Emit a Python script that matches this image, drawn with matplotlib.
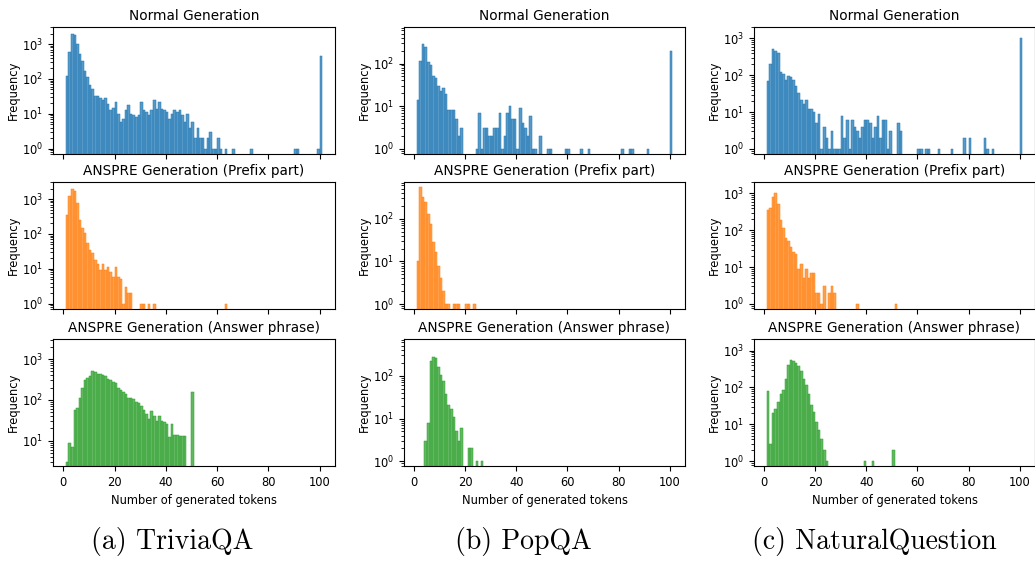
import matplotlib.pyplot as plt
import numpy as np
from matplotlib.colors import to_rgba

# one bin per token count, 1..100
bin_edges = np.arange(1, 102)

# ---- TriviaQA ----
trivia_normal_tokens = list(range(1, 62)) + [63, 66, 73, 90, 91, 99, 100]
trivia_normal_freq = [123, 575, 1900, 1780, 1040, 530, 318, 165, 116, 68,
                      52, 33, 33, 28, 25, 29, 19, 13, 15, 22,
                      10, 6, 7, 13, 18, 10, 9, 8, 9, 22,
                      13, 11, 9, 13, 25, 14, 22, 14, 13, 11,
                      7, 10, 13, 11, 13, 9, 6, 10, 4, 6,
                      2, 4, 2, 2, 1, 2, 3, 1, 1, 2, 1,
                      1, 1, 1, 1, 1, 1, 460]

trivia_prefix_tokens = list(range(1, 27)) + [30, 31, 33, 35, 63]
trivia_prefix_freq = [347, 1260, 1940, 1660, 750, 255, 147, 104, 55, 35,
                      28, 18, 14, 9, 14, 9, 11, 8, 6, 11,
                      6, 5, 1, 3, 2, 2,
                      1, 1, 1, 1, 1]

trivia_answer_tokens = list(range(1, 48)) + [50]
trivia_answer_freq = [3, 9, 7, 55, 65, 114, 200, 315, 352, 375,
                      520, 495, 440, 423, 400, 375, 333, 315, 267, 253,
                      200, 170, 152, 143, 114, 109, 103, 87, 83, 70,
                      55, 44, 34, 52, 40, 30, 40, 30, 28, 25,
                      12, 25, 14, 14, 13, 13, 13,
                      160]

# ---- PopQA ----
pop_normal_tokens = list(range(1, 19)) + list(range(24, 48)) + [49, 52, 53, 59, 60, 65, 68, 81, 84, 85, 91, 100]
pop_normal_freq = [14, 112, 295, 242, 107, 90, 52, 45, 30, 23,
                   26, 19, 8, 8, 8, 5, 2, 3,
                   1, 7, 1, 3, 3, 2, 2, 3, 3, 7,
                   1, 2, 7, 10, 5, 5, 1, 9, 4, 3,
                   2, 6, 1, 1,
                   2, 1, 1, 1, 1, 1, 1, 1, 1, 1, 1, 200]

pop_prefix_tokens = list(range(1, 14)) + [15, 16, 17, 20, 21, 23]
pop_prefix_freq = [10, 550, 323, 247, 128, 75, 29, 17, 8, 4,
                   2, 1, 1,
                   1, 1, 1, 1, 1, 1]

pop_answer_tokens = list(range(4, 19)) + [21, 22, 24, 26]
pop_answer_freq = [3, 8, 222, 274, 257, 161, 105, 74, 38, 21,
                   17, 11, 5, 3, 6,
                   2, 2, 1, 1]

# ---- NaturalQuestion ----
nq_normal_tokens = list(range(1, 50)) + [52, 53, 60, 61, 63, 64, 68, 73, 78, 80, 86, 87, 89, 100]
nq_normal_freq = [71, 200, 510, 450, 405, 123, 109, 75, 96, 89,
                  75, 52, 34, 22, 17, 22, 12, 12, 10, 5,
                  9, 1, 4, 2, 1, 3, 1, 1, 1, 8,
                  2, 6, 1, 6, 4, 3, 2, 4, 6, 6,
                  5, 2, 4, 8, 2, 6, 6, 1, 3,
                  5, 3, 1, 1, 1, 1, 1, 1, 2, 2, 2, 1, 1, 1000]

nq_prefix_tokens = list(range(1, 24)) + [25, 26, 27, 36, 51]
nq_prefix_freq = [357, 398, 780, 1000, 510, 193, 118, 62, 51, 35,
                  25, 23, 9, 12, 5, 9, 5, 7, 7, 2,
                  2, 1, 3,
                  2, 3, 2, 1, 1]

nq_answer_tokens = list(range(1, 25)) + [39, 42, 50]
nq_answer_freq = [81, 3, 20, 26, 40, 66, 87, 168, 410, 560,
                  525, 465, 385, 275, 168, 118, 67, 33, 22, 12,
                  7, 4, 2, 1,
                  1, 1, 2]

row_titles = ["Normal Generation", "ANSPRE Generation (Prefix part)",
              "ANSPRE Generation (Answer phrase)"]
captions = ["(a) TriviaQA", "(b) PopQA", "(c) NaturalQuestion"]
columns = [
    [(trivia_normal_tokens, trivia_normal_freq),
     (trivia_prefix_tokens, trivia_prefix_freq),
     (trivia_answer_tokens, trivia_answer_freq)],
    [(pop_normal_tokens, pop_normal_freq),
     (pop_prefix_tokens, pop_prefix_freq),
     (pop_answer_tokens, pop_answer_freq)],
    [(nq_normal_tokens, nq_normal_freq),
     (nq_prefix_tokens, nq_prefix_freq),
     (nq_answer_tokens, nq_answer_freq)],
]
colors = ["#1f77b4", "#ff7f0e", "#2ca02c"]
y_top = [3100, 720, 2050]
y_bottom = [[0.7, 0.7, 2.4], [0.75, 0.77, 0.78], [0.73, 0.73, 0.75]]

W, H = 1035, 562
fig = plt.figure(figsize=(W / 100, H / 100), dpi=100)

col_left = [53, 404, 754]
col_width = [282, 281, 281]
row_top = [27, 182, 339]
row_height = 127

for c, col in enumerate(columns):
    for r, (tokens, freq) in enumerate(col):
        ax = fig.add_axes([col_left[c] / W, 1 - (row_top[r] + row_height) / H,
                           col_width[c] / W, row_height / H])
        # seaborn-like bars: translucent fill, thin solid edge of the same hue
        ax.hist(np.array(tokens) + 0.5, bins=bin_edges, weights=freq,
                facecolor=to_rgba(colors[r], 0.75), edgecolor=colors[r],
                linewidth=0.35)
        ax.set_yscale("log")
        ax.set_ylim(y_bottom[c][r], y_top[c])
        ax.set_xlim(-4, 106)
        ax.set_xticks(range(0, 101, 20))
        ax.tick_params(labelsize=8.3)
        ax.set_title(row_titles[r], fontsize=9.8, pad=5)
        ax.set_ylabel("Frequency", fontsize=8.3, labelpad=1.5)
        if r < 2:
            ax.tick_params(labelbottom=False)
        else:
            ax.set_xlabel("Number of generated tokens", fontsize=8.3)

caption_x = [172, 523, 874]
for c, cap in enumerate(captions):
    fig.text(caption_x[c] / W, 1 - 541 / H, cap, ha="center", va="center",
             fontsize=20, family="cmr10")

fig.savefig("out.png", dpi=100)
